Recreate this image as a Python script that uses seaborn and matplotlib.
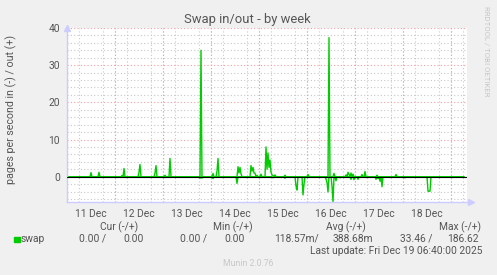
import numpy as np
import pandas as pd
import matplotlib
matplotlib.use("Agg")
import matplotlib.pyplot as plt
import seaborn as sns

# ---- data (hours since 11 Dec 00:00, pages/s) ----
out_hours = [12, 16, 27.5, 28.5, 36, 36.5, 44, 44.5, 49, 51.5, 67, 73, 75, 75.5,
             85.5, 86, 86.5, 87, 92, 92.5, 93, 93.5, 94, 95, 97,
             99.5, 100, 100.5, 101, 101.5, 102, 102.5, 103, 104, 109, 120.5,
             131, 133.5, 139.5, 140.5, 141, 142, 143, 147.5, 149, 155, 164.5]
out_vals = [1.1, 1.2, 0.3, 2.2, 1.2, 3.3, 1.0, 3.0, 0.4, 4.9, 34.0, 0.9, 1.5, 4.9,
            2.7, 1.0, 2.5, 0.8, 3.0, 1.5, 2.5, 1.0, 1.0, 0.4, 0.7,
            8.0, 2.0, 6.4, 2.5, 4.5, 1.2, 0.5, 0.3, 0.5, 0.4, 0.6,
            37.4, 0.9, 0.5, 1.2, 0.6, 1.0, 0.7, 0.6, 1.4, 0.4, 0.6]
in_hours = [66.5, 67.5, 73, 85, 103, 109, 114.5, 115, 118, 118.5,
            129.5, 130, 130.5, 132.5, 133, 134.5, 136.5, 142, 143.5, 145.5,
            154.5, 155.5, 156.5, 157.5, 169, 180.5, 181, 181.5]
in_vals = [-0.4, -0.4, -0.5, -1.8, -0.3, -0.4, -2.5, -3.6, -4.9, -2.0,
           -0.6, -1.5, -4.1, -2.5, -6.8, -1.1, -0.3, -0.7, -0.8, -0.7,
           -0.7, -0.5, -1.2, -2.7, -0.3, -3.9, -3.9, -3.9]
day_labels = ["11 Dec", "12 Dec", "13 Dec", "14 Dec", "15 Dec", "16 Dec", "17 Dec", "18 Dec"]
y_ticks = [0, 10, 20, 30, 40]

title = "Swap in/out - by week"
ylabel = "pages per second in (-) / out (+)"
legend_name = "swap"
cur_vals = ["0.00 /", "0.00"]
min_vals = ["0.00 /", "0.00"]
avg_vals = ["118.57m/", "388.68m"]
max_vals = ["33.46 /", "186.62"]
last_update = "Last update: Fri Dec 19 06:40:00 2025"
footer = "Munin 2.0.76"
side = "RRDTOOL / TOBI OETIKER"

# 30-minute samples, zero where no activity is drawn
t = np.arange(0, 199, 0.5)
out_s = pd.Series(0.0, index=t)
out_s.loc[out_hours] = out_vals
in_s = pd.Series(0.0, index=t)
in_s.loc[in_hours] = in_vals
df = pd.DataFrame({"hours": t, "out": out_s.values, "in": in_s.values})

sns.set_theme(style="white")
plt.rcParams["font.family"] = ["Roboto", "DejaVu Sans"]
TXT = "#555555"
FS = 7.4
W, H = 497, 275
fig = plt.figure(figsize=(W / 100, H / 100), dpi=100, facecolor="#f0f0f0")
ax = fig.add_axes([67 / W, 1 - 202 / H, 400 / W, 174 / H])
ax.set_facecolor("white")

XMAX = 200
ax.set_xlim(0, XMAX)
ax.set_ylim(-6.8, 40)

# grid
ax.set_yticks(y_ticks)
ax.set_yticks(np.arange(-6, 41, 2), minor=True)
ax.set_xticks(np.arange(12, 24 * len(day_labels), 24))
ax.set_xticklabels(day_labels)
ax.set_xticks(np.arange(0, XMAX + 1, 6), minor=True)
ax.grid(False)
ax.yaxis.grid(True, which="minor", color="#c8c8c8", ls=(0, (1, 2)), lw=0.8)
ax.yaxis.grid(True, which="major", color="#f0a0a0", ls=(0, (1, 2)), lw=0.8)
ax.xaxis.grid(True, which="minor", color="#c8c8c8", ls=(0, (1, 2)), lw=0.8)
for d in np.arange(0, XMAX + 1, 24):
    ax.axvline(d, color="#f0a0a0", ls=(0, (1, 2)), lw=0.8, zorder=0.6)

sns.lineplot(data=df, x="hours", y="out", ax=ax, color="#00cc00", lw=1.0, estimator=None)
sns.lineplot(data=df, x="hours", y="in", ax=ax, color="#00cc00", lw=1.0, estimator=None)
ax.axhline(0, color="black", lw=0.8, zorder=3)

for s in ["top", "right"]:
    ax.spines[s].set_visible(False)
for s in ["left", "bottom"]:
    ax.spines[s].set_color("#ccccff")
    ax.spines[s].set_linewidth(1)
ax.plot([0], [1.0], marker="^", color="#ccccff", ms=4, transform=ax.transAxes, clip_on=False)
ax.plot([1.01], [0], marker=">", color="#ccccff", ms=4, transform=ax.transAxes, clip_on=False)

ax.tick_params(axis="both", which="major", labelsize=FS, labelcolor=TXT, length=0, pad=5)
ax.tick_params(axis="both", which="minor", length=0)
ax.set_xlabel("")
ax.set_ylabel(ylabel, fontsize=FS + 0.3, color=TXT)
ax.yaxis.set_label_coords(-(67 - 17) / 400, (202 - 109) / 174)

def ft(x, y, s, **kw):
    kw.setdefault("fontsize", FS)
    kw.setdefault("color", TXT)
    kw.setdefault("va", "center")
    fig.text(x / W, 1 - y / H, s, **kw)

ft(247.5, 20, title, ha="center", fontsize=9.4)
ft(487, 51, side, ha="center", rotation=270, fontsize=5.6, color="#c8c8c8")

fig.patches.append(plt.Rectangle((14 / W, 1 - 242 / H), 5.5 / W, 5.5 / H, color="#00cc00",
                                 transform=fig.transFigure))
ft(20.5, 239, legend_name, ha="left")
ft(119.5, 227, "Cur (-/+)", ha="center")
ft(232.5, 227, "Min (-/+)", ha="center")
ft(345.5, 227, "Avg (-/+)", ha="center")
ft(460, 227, "Max (-/+)", ha="center")
for (a, b), (xa, xb) in zip([cur_vals, min_vals, avg_vals, max_vals],
                            [(106, 144), (207, 245), (319, 373), (433, 479)]):
    ft(xa, 239, a, ha="right")
    ft(xb, 239, b, ha="right")
ft(482, 251, last_update, ha="right")
ft(248.5, 263, footer, ha="center", fontsize=6.2, color="#c8c8c8")

fig.savefig("out.png", dpi=100, facecolor=fig.get_facecolor())
